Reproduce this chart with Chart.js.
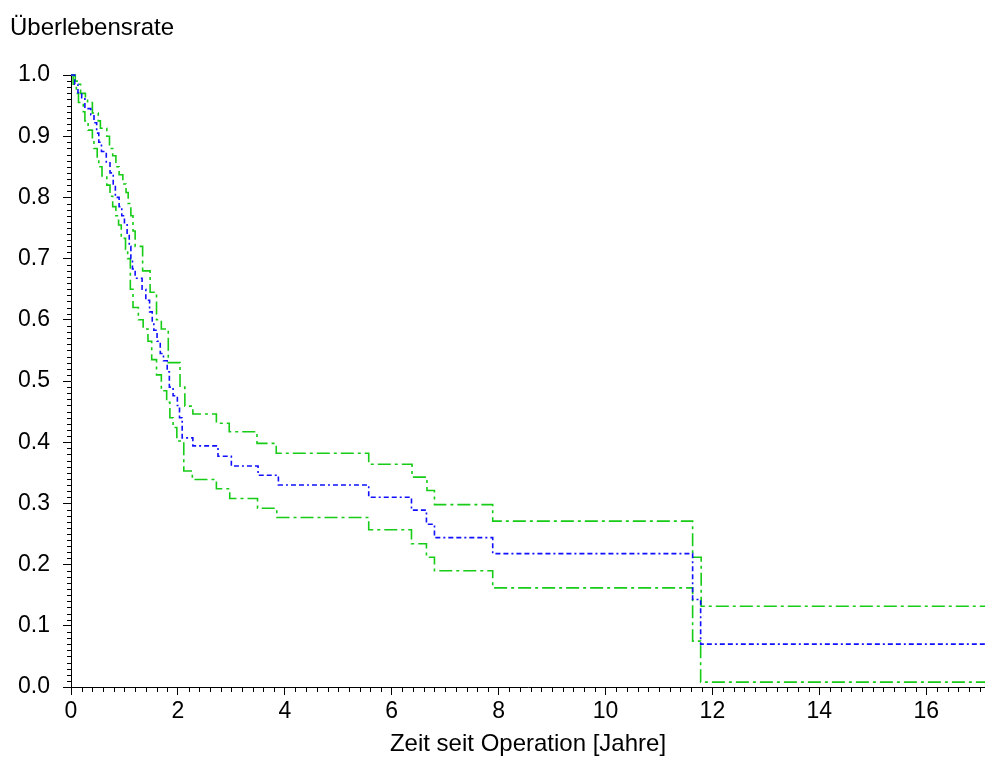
<!DOCTYPE html>
<html>
<head>
<meta charset="utf-8">
<script src="https://cdn.jsdelivr.net/npm/chart.js@4/dist/chart.umd.min.js"></script>
<style>
html,body{margin:0;padding:0;background:#fff;}
canvas{display:block;}
</style>
</head>
<body>
<canvas id="c" width="985" height="760"></canvas>
<script>
// Kaplan-Meier estimate (blue) and 95% confidence limits (green)
const kmTimes = [0, 0.07, 0.13, 0.20, 0.26, 0.37, 0.43, 0.48, 0.52, 0.57, 0.66, 0.73, 0.79, 0.83, 0.90, 0.95, 1.00, 1.05, 1.09, 1.12, 1.15, 1.20, 1.33, 1.40, 1.47, 1.52, 1.55, 1.61, 1.67, 1.73, 1.80, 1.84, 1.91, 1.99, 2.03, 2.08, 2.28, 2.75, 3.00, 3.50, 3.88, 5.57, 6.37, 6.65, 6.80, 7.89, 11.63, 11.78, 17.1];
const kmSurv  = [1.0, 0.985, 0.971, 0.963, 0.945, 0.935, 0.922, 0.905, 0.89, 0.875, 0.858, 0.84, 0.82, 0.80, 0.785, 0.77, 0.757, 0.74, 0.72, 0.70, 0.683, 0.668, 0.65, 0.632, 0.613, 0.595, 0.583, 0.565, 0.545, 0.533, 0.515, 0.49, 0.476, 0.46, 0.44, 0.407, 0.394, 0.377, 0.361, 0.346, 0.330, 0.310, 0.289, 0.266, 0.244, 0.218, 0.143, 0.070, 0.070];

const upperTimes = [0, 0.08, 0.13, 0.18, 0.27, 0.31, 0.40, 0.51, 0.55, 0.67, 0.72, 0.78, 0.84, 0.90, 0.97, 1.03, 1.07, 1.12, 1.16, 1.20, 1.34, 1.48, 1.60, 1.69, 1.82, 2.04, 2.13, 2.28, 2.72, 2.96, 3.48, 3.84, 5.57, 6.38, 6.66, 6.80, 7.89, 11.63, 11.79, 17.1];
const upperSurv  = [1.0, 0.99, 0.985, 0.97, 0.963, 0.955, 0.938, 0.925, 0.913, 0.90, 0.88, 0.868, 0.85, 0.837, 0.822, 0.808, 0.79, 0.77, 0.745, 0.72, 0.68, 0.645, 0.60, 0.585, 0.53, 0.49, 0.459, 0.446, 0.431, 0.417, 0.398, 0.382, 0.364, 0.343, 0.321, 0.298, 0.271, 0.212, 0.132, 0.132];

const lowerTimes = [0, 0.04, 0.10, 0.14, 0.23, 0.26, 0.32, 0.40, 0.43, 0.49, 0.52, 0.58, 0.67, 0.73, 0.78, 0.84, 0.89, 0.94, 1.02, 1.06, 1.11, 1.16, 1.26, 1.35, 1.44, 1.51, 1.60, 1.69, 1.79, 1.85, 1.91, 1.98, 2.11, 2.27, 2.72, 2.97, 3.49, 3.85, 5.57, 6.37, 6.65, 6.80, 7.89, 11.63, 11.78, 17.1];
const lowerSurv  = [1.0, 0.985, 0.97, 0.955, 0.94, 0.925, 0.91, 0.895, 0.88, 0.862, 0.85, 0.835, 0.82, 0.802, 0.785, 0.77, 0.755, 0.733, 0.715, 0.70, 0.65, 0.62, 0.60, 0.585, 0.565, 0.535, 0.51, 0.484, 0.465, 0.44, 0.424, 0.402, 0.353, 0.339, 0.324, 0.308, 0.292, 0.277, 0.257, 0.234, 0.212, 0.190, 0.162, 0.075, 0.008, 0.008];

const xTickValues = [0, 2, 4, 6, 8, 10, 12, 14, 16];
const yTickValues = [0, 0.1, 0.2, 0.3, 0.4, 0.5, 0.6, 0.7, 0.8, 0.9, 1.0];
const xMin = 0, xMax = 17.1, xMinorStep = 0.2;
const yMin = 0, yMax = 1.0, yMinorStep = 0.01;
const yTitle = 'Überlebensrate';
const xTitle = 'Zeit seit Operation [Jahre]';

const FONT = "'Liberation Sans', Arial, sans-serif";

function pts(ts, vs){ return ts.map((t,i)=>({x:t, y:vs[i]})); }

const minorTicks = {
  id: 'minorTicks',
  afterDraw(chart){
    const ctx = chart.ctx, xs = chart.scales.x, ys = chart.scales.y;
    ctx.save();
    ctx.strokeStyle = '#000';
    ctx.lineWidth = 1;
    ctx.beginPath();
    const nx = Math.floor((xMax - xMin) / xMinorStep + 1e-6);
    for (let i = 0; i <= nx; i++){
      const v = xMin + i * xMinorStep;
      if (xTickValues.some(t => Math.abs(t - v) < 1e-6)) continue;
      const px = Math.round(xs.getPixelForValue(v)) + 0.5;
      ctx.moveTo(px, ys.bottom);
      ctx.lineTo(px, ys.bottom + 5);
    }
    const ny = Math.round((yMax - yMin) / yMinorStep);
    for (let i = 0; i <= ny; i++){
      const v = yMin + i * yMinorStep;
      if (yTickValues.some(t => Math.abs(t - v) < 1e-6)) continue;
      const py = Math.round(ys.getPixelForValue(v)) + 0.5;
      ctx.moveTo(xs.left - 4, py);
      ctx.lineTo(xs.left + 1, py);
    }
    ctx.stroke();
    ctx.fillStyle = '#000';
    ctx.font = '24px ' + FONT;
    ctx.textBaseline = 'alphabetic';
    ctx.textAlign = 'left';
    ctx.fillText(yTitle, 10, 35);
    ctx.restore();
  }
};

new Chart(document.getElementById('c'), {
  type: 'line',
  data: {
    datasets: [
      { label: 'KM', data: pts(kmTimes, kmSurv), borderColor: '#1010ff', borderWidth: 1.6,
        borderDash: [5, 3, 5, 3, 2, 3], stepped: 'before', pointRadius: 0, fill: false, clip: false },
      { label: 'upper', data: pts(upperTimes, upperSurv), borderColor: '#16cc16', borderWidth: 1.6,
        borderDash: [13, 4, 3, 4], stepped: 'before', pointRadius: 0, fill: false, clip: false },
      { label: 'lower', data: pts(lowerTimes, lowerSurv), borderColor: '#16cc16', borderWidth: 1.6,
        borderDash: [13, 4, 3, 4], stepped: 'before', pointRadius: 0, fill: false, clip: false }
    ]
  },
  options: {
    responsive: false,
    animation: false,
    layout: { padding: { top: 75, right: 0, left: 0, bottom: 0 } },
    plugins: { legend: { display: false }, tooltip: { enabled: false }, title: { display: false } },
    scales: {
      x: {
        type: 'linear', min: xMin, max: xMax,
        afterBuildTicks(scale){ scale.ticks = xTickValues.map(v => ({ value: v })); },
        afterFit(scale){ scale.height = 73; },
        ticks: { color: '#000', font: { family: FONT, size: 23 }, padding: 3, maxRotation: 0, autoSkip: false,
                 callback: v => String(Math.round(v)) },
        grid: { display: true, drawOnChartArea: false, drawTicks: true, tickLength: 8, color: '#000', lineWidth: 1 },
        border: { display: true, color: '#000', width: 1 },
        title: { display: true, text: xTitle, color: '#000', font: { family: FONT, size: 24 }, padding: { top: 0, bottom: 1 } }
      },
      y: {
        type: 'linear', min: yMin, max: yMax,
        afterBuildTicks(scale){ scale.ticks = yTickValues.map(v => ({ value: v })); },
        afterFit(scale){ scale.width = 71; },
        ticks: { color: '#000', font: { family: FONT, size: 23 }, padding: 13,
                 callback: v => Number(v).toFixed(1) },
        grid: { display: true, drawOnChartArea: false, drawTicks: true, tickLength: 8, color: '#000', lineWidth: 1 },
        border: { display: true, color: '#000', width: 1 }
      }
    }
  },
  plugins: [minorTicks]
});
</script>
</body>
</html>
